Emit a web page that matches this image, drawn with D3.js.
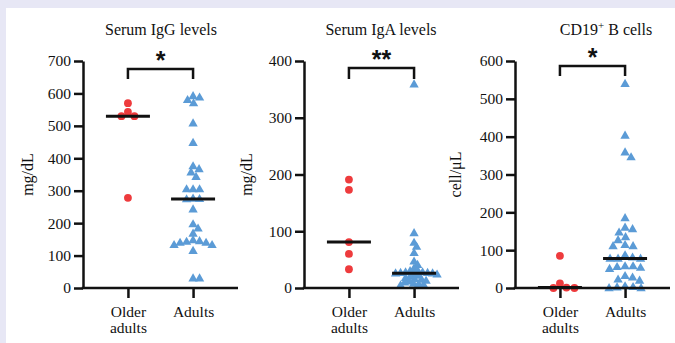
<!DOCTYPE html>
<html>
<head>
<meta charset="utf-8">
<script src="https://cdn.jsdelivr.net/npm/d3@7.9.0/dist/d3.min.js"></script>
<style>
  body { margin: 0; background: #e7e7f5; }
  svg { display: block; }
  text { font-family: "Liberation Serif", "Times New Roman", serif; fill: #111; }
</style>
</head>
<body>
<div id="chart"></div>
<script>
// values
const groups = ["Older adults", "Adults"];

const iggOlder = [570, 543, 530, 530, 278];
const iggAdults = [592, 588, 580, 570, 508, 448, 376, 367, 357, 343, 305, 305, 305,
  276, 275, 274, 243, 197, 184, 168, 148, 145, 143, 140, 140, 133, 133, 115, 30, 30];

const igaOlder = [191, 173, 81, 60, 33];
const igaAdults = [359, 97, 80, 73, 62, 47, 41, 35, 30, 30, 28, 28, 27, 27, 26,
  26, 25, 24, 22, 20, 18, 16, 15, 13, 12, 10, 8, 7, 6, 5];

const cd19Older = [85, 12, 1, 0, 0];
const cd19Adults = [540, 403, 359, 346, 185, 160, 156, 147, 135, 127, 114, 111, 111,
  87, 81, 78, 78, 78, 58, 58, 56, 54, 51, 32, 28, 23, 20, 5, 3, 2, 0, 0];

const titles = ["Serum IgG levels", "Serum IgA levels", "CD19"];
const yLabels = ["mg/dL", "mg/dL", "cell/\u03bcL"];
const yMax = [700, 400, 600];
const yTicks = [
  [0, 100, 200, 300, 400, 500, 600, 700],
  [0, 100, 200, 300, 400],
  [0, 100, 200, 300, 400, 500, 600]
];
const stars = ["*", "**", "*"];

const series = [
  [iggOlder, iggAdults],
  [igaOlder, igaAdults],
  [cd19Older, cd19Adults]
];

// layout
const width = 675, height = 343;
const plotTop = 61, plotBottom = 288, axisW = 155;
const panels = [
  { left: 83, titleX: 161, labelX: 33, brY: 69, brDrop: 79, spread: 6.4 },
  { left: 304, titleX: 381, labelX: 252, brY: 68, brDrop: 79, spread: 4.6 },
  { left: 515, titleX: 606, labelX: 461, brY: 66, brDrop: 76, spread: 7.6 }
];
const red = "#ee3b3d", blue = "#5b9bd6";
const serif = '"Liberation Serif", "Times New Roman", serif';

const svg = d3.select("#chart").append("svg")
  .attr("width", width).attr("height", height);

svg.append("rect")
  .attr("x", 6).attr("y", 8)
  .attr("width", width).attr("height", height)
  .attr("fill", "#fff");

// simple beeswarm: nudge each point sideways until it clears the others
function swarm(vals, y, minDist) {
  const placed = [];
  const order = vals.map((v, i) => i).sort((a, b) => vals[b] - vals[a]);
  const out = new Array(vals.length);
  for (const i of order) {
    const py = y(vals[i]);
    let dx = 0;
    for (let k = 0; k < 400; k++) {
      const cand = (k % 2 ? 1 : -1) * Math.ceil(k / 2) * 0.5;
      const ok = placed.every(p => Math.hypot(p.x - cand, p.y - py) >= minDist);
      if (ok) { dx = cand; break; }
    }
    placed.push({ x: dx, y: py });
    out[i] = { v: vals[i], dx: dx, y: py };
  }
  return out;
}

panels.forEach((p, pi) => {
  const g = svg.append("g");

  const x = d3.scalePoint().domain(groups)
    .range([p.left, p.left + axisW]).padding(0.69);
  const y = d3.scaleLinear().domain([0, yMax[pi]]).range([plotBottom, plotTop]);

  // y axis
  const ya = g.append("g")
    .attr("transform", `translate(${p.left},0)`)
    .call(d3.axisLeft(y).tickValues(yTicks[pi]).tickSize(9).tickSizeOuter(0).tickPadding(3))
    .attr("font-family", serif)
    .attr("font-size", 15.5);
  ya.selectAll("text").attr("fill", "#111");
  ya.selectAll("line, path").attr("stroke", "#111").attr("stroke-width", 2.5);

  // x axis
  const xa = g.append("g")
    .attr("transform", `translate(0,${plotBottom})`)
    .call(d3.axisBottom(x).tickSize(10).tickSizeOuter(0))
    .attr("font-family", serif)
    .attr("font-size", 15.5);
  xa.select(".domain").attr("d", `M${p.left - 1.25},0H${p.left + axisW}`);
  xa.selectAll("line, path").attr("stroke", "#111").attr("stroke-width", 2.5);
  xa.selectAll("text").remove();
  xa.selectAll(".tick").each(function (d) {
    const t = d3.select(this).append("text")
      .attr("text-anchor", "middle")
      .attr("fill", "#111");
    const words = d === "Older adults" ? ["Older", "adults"] : [d];
    words.forEach((w, i) => t.append("tspan").attr("x", 0).attr("y", 29 + i * 16).text(w));
  });

  // title
  const title = g.append("text")
    .attr("x", p.titleX).attr("y", 35)
    .attr("text-anchor", "middle")
    .style("font-size", "16px")
    .text(titles[pi]);
  if (pi === 2) {
    title.append("tspan").attr("dy", -6).style("font-size", "11px").text("+");
    title.append("tspan").attr("dy", 6).text(" B cells");
  }

  // y label
  g.append("text")
    .attr("transform", `translate(${p.labelX},${(plotTop + plotBottom) / 2}) rotate(-90)`)
    .attr("text-anchor", "middle")
    .style("font-size", "16px")
    .text(yLabels[pi]);

  // significance bracket
  const x0 = x(groups[0]), x1 = x(groups[1]);
  g.append("path")
    .attr("d", `M${x0},${p.brDrop}V${p.brY}H${x1}V${p.brDrop}`)
    .attr("fill", "none").attr("stroke", "#111").attr("stroke-width", 2.5);
  g.append("text")
    .attr("x", (x0 + x1) / 2).attr("y", p.brY)
    .attr("text-anchor", "middle")
    .style("font-family", '"Liberation Sans", Arial, sans-serif')
    .style("font-weight", "bold")
    .style("font-size", "25px")
    .text(stars[pi]);

  // points
  const [older, adults] = series[pi];
  const oldPts = swarm(older, y, 7.6);
  const adPts = swarm(adults, y, p.spread);

  g.append("g").selectAll("circle")
    .data(oldPts).join("circle")
    .attr("cx", d => x(groups[0]) + d.dx)
    .attr("cy", d => d.y)
    .attr("r", 3.9)
    .attr("fill", red);

  const tri = d3.symbol().type(d3.symbolTriangle).size(38);
  g.append("g").selectAll("path")
    .data(adPts).join("path")
    .attr("d", tri)
    .attr("transform", d => `translate(${x(groups[1]) + d.dx},${d.y + 0.5})`)
    .attr("fill", blue);

  // medians
  [older, adults].forEach((vals, gi) => {
    const cx = x(groups[gi]);
    const m = d3.median(vals);
    g.append("line")
      .attr("x1", cx - 22).attr("x2", cx + 22)
      .attr("y1", y(m)).attr("y2", y(m))
      .attr("stroke", "#111").attr("stroke-width", 3);
  });

  ya.raise();
  xa.raise();
});
</script>
</body>
</html>
